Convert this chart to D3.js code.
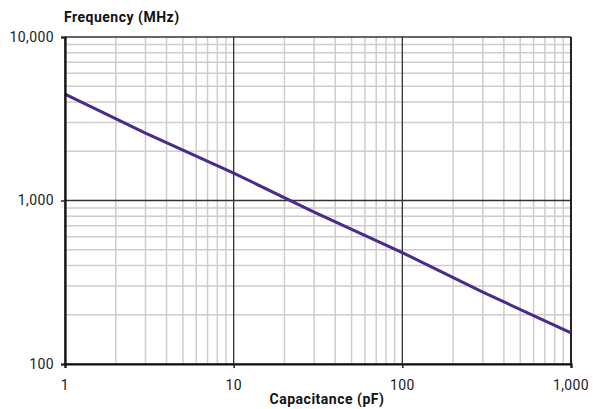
<!DOCTYPE html>
<html>
  <head>
    <meta charset="utf-8">
    <script src="https://d3js.org/d3.v7.min.js"></script>
    <style>
      body { margin: 0; background: #fff; overflow: hidden; }
      svg { display: block; }
      .tick-label { fill: #222; font-size: 14px; letter-spacing: 0.4px; font-family: Roboto, sans-serif; }
      .axis-label { fill: #111; font-size: 14px; letter-spacing: 0.5px; font-weight: bold; font-family: Roboto, sans-serif; }
    </style>
  </head>
  <body>
    <svg width="593" height="409"></svg>
    <script>
      // capacitance (pF) vs frequency (MHz)
      const capacitance = [1, 3, 10, 30, 100, 300, 1000];
      const frequency = [4470, 2580, 1470, 850, 480, 275, 155];
      const xTicks = [1, 10, 100, 1000];
      const yTicks = [100, 1000, 10000];

      const svg = d3.select('svg');
      const margin = { left: 65, right: 22, top: 37, bottom: 45 };
      const innerWidth = 593 - margin.left - margin.right;
      const innerHeight = 409 - margin.top - margin.bottom;
      const g = svg.append('g')
          .attr('transform', `translate(${margin.left}, ${margin.top})`);

      // scales work in page coordinates so labels can sit in the root svg
      const xScale = d3.scaleLog().domain([1, 1000])
          .range([margin.left, margin.left + innerWidth]);
      const yScale = d3.scaleLog().domain([100, 10000])
          .range([margin.top + innerHeight, margin.top]);
      const fmt = d3.format(',');
      const plot = svg.append('g');

      // minor grid (2..9 in each decade)
      const minorX = xScale.ticks().filter(v => !xTicks.includes(v));
      const minorY = yScale.ticks().filter(v => !yTicks.includes(v));
      plot.selectAll('.minor-x').data(minorX).enter().append('line')
          .attr('x1', d => xScale(d)).attr('x2', d => xScale(d))
          .attr('y1', margin.top).attr('y2', margin.top + innerHeight)
          .attr('stroke', '#cdcdcd').attr('stroke-width', 1.5);
      plot.selectAll('.minor-y').data(minorY).enter().append('line')
          .attr('y1', d => yScale(d)).attr('y2', d => yScale(d))
          .attr('x1', margin.left).attr('x2', margin.left + innerWidth)
          .attr('stroke', '#cdcdcd').attr('stroke-width', 1.5);

      // major grid
      plot.selectAll('.major-x').data(xTicks).enter().append('line')
          .attr('x1', d => xScale(d)).attr('x2', d => xScale(d))
          .attr('y1', margin.top).attr('y2', margin.top + innerHeight)
          .attr('stroke', '#333').attr('stroke-width', 1.3);
      plot.selectAll('.major-y').data(yTicks).enter().append('line')
          .attr('y1', d => yScale(d)).attr('y2', d => yScale(d))
          .attr('x1', margin.left).attr('x2', margin.left + innerWidth)
          .attr('stroke', '#333').attr('stroke-width', 1.3);

      // right border
      plot.append('line')
          .attr('x1', margin.left + innerWidth).attr('x2', margin.left + innerWidth)
          .attr('y1', margin.top).attr('y2', margin.top + innerHeight)
          .attr('stroke', '#222').attr('stroke-width', 2);

      // axes: lines and tick marks from d3, labels placed below
      const xAxis = d3.axisBottom(xScale).tickValues(xTicks).tickFormat('')
          .tickSize(4);
      const yAxis = d3.axisLeft(yScale).tickValues(yTicks).tickFormat('')
          .tickSize(4);
      const xAxisG = svg.append('g')
          .attr('transform', `translate(0, ${margin.top + innerHeight})`).call(xAxis);
      const yAxisG = svg.append('g')
          .attr('transform', `translate(${margin.left}, 0)`).call(yAxis);
      [xAxisG, yAxisG].forEach(a => {
        a.select('.domain').attr('stroke', '#111').attr('stroke-width', 2.2);
        a.selectAll('.tick line').attr('stroke', '#222').attr('stroke-width', 1.5);
        a.selectAll('.tick text').remove();
      });

      svg.selectAll('.x-label').data(xTicks).enter().append('text')
          .attr('class', 'tick-label')
          .attr('x', d => xScale(d))
          .attr('y', margin.top + innerHeight + 26)
          .style('text-anchor', 'middle')
          .text(fmt);
      svg.selectAll('.y-label').data(yTicks).enter().append('text')
          .attr('class', 'tick-label')
          .attr('x', margin.left - 11)
          .attr('y', d => yScale(d))
          .attr('dy', '0.35em')
          .style('text-anchor', 'end')
          .text(fmt);

      // the curve
      const line = d3.line()
          .x((d, i) => xScale(capacitance[i]))
          .y(d => yScale(d));
      plot.append('path')
          .datum(frequency)
          .attr('d', line)
          .attr('fill', 'none')
          .attr('stroke', '#4a2a8c')
          .attr('stroke-width', 3);

      // axis labels
      svg.append('text')
          .attr('class', 'axis-label')
          .attr('x', 64).attr('y', 22)
          .text('Frequency (MHz)');
      svg.append('text')
          .attr('class', 'axis-label')
          .attr('x', 327).attr('y', 404)
          .style('text-anchor', 'middle')
          .text('Capacitance (pF)');
    </script>
  </body>
</html>
